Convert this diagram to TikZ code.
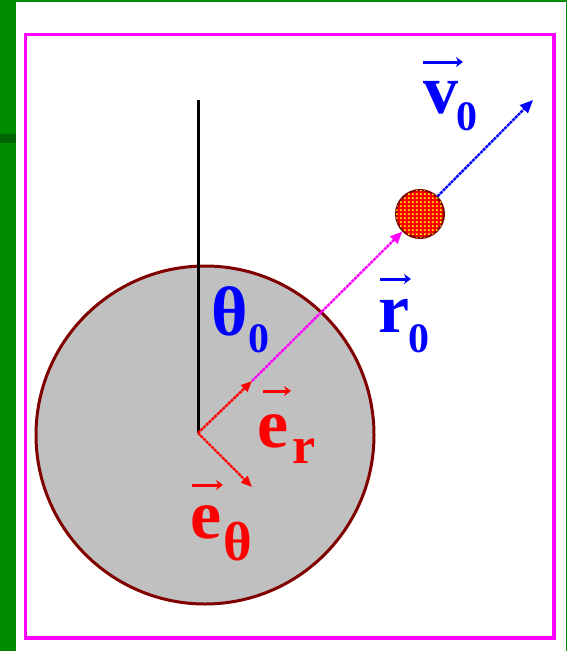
\documentclass[tikz,border=0pt]{standalone}
\usepackage{fontspec}
\setmainfont{Liberation Serif}
\usetikzlibrary{arrows.meta,patterns,calc}
\definecolor{grA}{RGB}{0,138,0}
\definecolor{grD}{RGB}{0,100,0}
\definecolor{mag}{RGB}{255,0,255}
\definecolor{dred}{RGB}{128,0,0}
\definecolor{disc}{RGB}{192,192,192}
\definecolor{pblue}{RGB}{0,0,255}
\definecolor{pred}{RGB}{255,0,0}
\pgfdeclarepatternformonly{ychk}{\pgfqpoint{0pt}{0pt}}{\pgfqpoint{4pt}{4pt}}{\pgfqpoint{4pt}{4pt}}{%
  \pgfpathrectangle{\pgfqpoint{0pt}{0pt}}{\pgfqpoint{2pt}{2pt}}\pgfusepath{fill}}
\tikzset{
  lab/.style={inner sep=0pt, anchor=base west, font=\bfseries\fontsize{70}{70}\selectfont},
  vecarr/.style={line width=3pt, -{Stealth[length=7pt,width=10pt]}},
  ray/.style={line width=2.4pt, dash pattern=on 3pt off 0.8pt},
  ball/.style={circle, minimum size=48pt, inner sep=0pt, fill=pred,
    postaction={pattern=ychk, pattern color=yellow},
    draw=dred, line width=2pt},
}
\newcommand{\subsz}[2]{\fontsize{#1}{#1}\selectfont #2}
\begin{document}
\begin{tikzpicture}[x=1pt,y=-1pt]
\useasboundingbox (0,0) rectangle (567,651);
% background
\fill[grA] (0,0) rectangle (567,651);
\fill[grD] (0,134) rectangle (16,143);
\fill[white] (16,2) rectangle (566,651);
\draw[mag, line width=3.5pt] (25.5,34.5) rectangle (554,638);
% planet
\draw[fill=disc, draw=dred, line width=3pt] (205,435) circle (169);
% points
\coordinate (O) at (198,433);
\coordinate (T) at (198,100);
\coordinate (er) at (252,381);
\coordinate (et) at (252,487);
\coordinate (vtip) at (533,100);
\node[ball] (ball) at (420,214) {};
% lines
\draw[black, line width=3pt] (O) -- (T);
\draw[mag, ray, -{Triangle[length=12pt,width=10pt]}] (er) -- (ball);
\draw[pblue, ray, -{Triangle[length=13pt,width=11pt]}] (ball) -- (vtip);
\draw[pred, ray, -{Triangle[length=11pt,width=9pt]}] (O) -- (er);
\draw[pred, ray, -{Triangle[length=11pt,width=9pt]}] (O) -- (et);
% labels
\node[lab, pblue] (v) at (423,113) {v\kern-2pt\raisebox{-17pt}{\subsz{42}{0}}};
\node[lab, pblue] (th) at (211,335) {θ\kern1pt\raisebox{-17pt}{\subsz{42}{0}}};
\node[lab, pblue] (r) at (378,332) {r\kern-1pt\raisebox{-20pt}{\subsz{42}{0}}};
\node[lab, pred] (e1) at (257,447) {e\kern4pt\raisebox{-16pt}{\subsz{52}{r}}};
\node[lab, pred] (e2) at (190,538) {e\kern2pt\raisebox{-22pt}{\subsz{55}{θ}}};
% vector arrows
\draw[pblue, vecarr] ($(v.base west)+(0,-51)$) -- ++(40,0);
\draw[pblue, vecarr] ($(r.base west)+(2,-53)$) -- ++(31,0);
\draw[pred, vecarr] ($(e1.base west)+(6,-56)$) -- ++(28,0);
\draw[pred, vecarr] ($(e2.base west)+(2,-53)$) -- ++(31,0);
\end{tikzpicture}
\end{document}
